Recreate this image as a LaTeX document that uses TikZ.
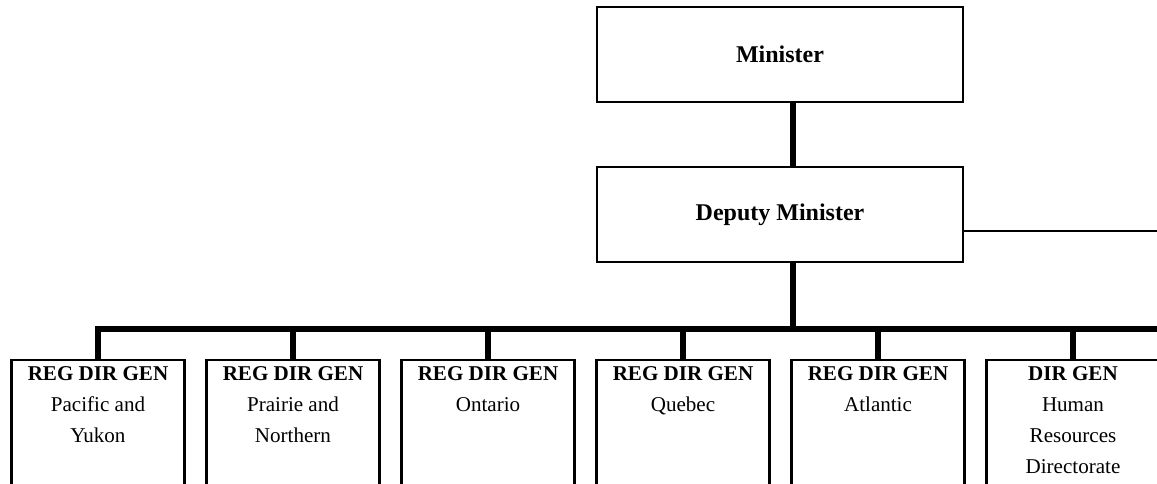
\documentclass[tikz,border=0pt]{standalone}
\usepackage{fontspec}
\setmainfont{Liberation Serif}
\usetikzlibrary{positioning}

\begin{document}
\begin{tikzpicture}[x=0.75pt,y=-0.75pt,
    topbox/.style={draw,line width=1.6pt,minimum width=366*0.75pt,minimum height=95*0.75pt,font=\fontsize{18}{22}\selectfont\bfseries},
    unitbox/.style={draw,line width=1.6pt,anchor=north,minimum width=173*0.75pt,minimum height=200*0.75pt},
    unittext/.style={anchor=north,align=center,inner sep=0pt,font=\fontsize{15.8}{23.25}\selectfont},
    trunk/.style={line width=4.6pt},
    thinline/.style={line width=1.6pt}]
    \useasboundingbox (0,0) rectangle (1157,484);
    \clip (0,0) rectangle (1157,484);
    \node[topbox] (min) at (780,54.5) {Minister};
    \node[topbox] (dep) at (780,214.5) {Deputy Minister};
    \coordinate (spine) at (793,0);
    \coordinate (bus) at (1165,329);
    \coordinate (side) at (1165,231);
    \node[unitbox] (pac) at (98,359) {};
    \node[unitbox] (pra) at (293,359) {};
    \node[unitbox] (ont) at (488,359) {};
    \node[unitbox] (que) at (683,359) {};
    \node[unitbox] (atl) at (878,359) {};
    \node[unitbox] (hrd) at (1073,359) {};
    \node[unittext] (pac-t) at ([yshift=-7*0.75pt]pac.north) {\textbf{REG DIR GEN}\\Pacific and\\Yukon};
    \node[unittext] (pra-t) at ([yshift=-7*0.75pt]pra.north) {\textbf{REG DIR GEN}\\Prairie and\\Northern};
    \node[unittext] (ont-t) at ([yshift=-7*0.75pt]ont.north) {\textbf{REG DIR GEN}\\Ontario};
    \node[unittext] (que-t) at ([yshift=-7*0.75pt]que.north) {\textbf{REG DIR GEN}\\Quebec};
    \node[unittext] (atl-t) at ([yshift=-7*0.75pt]atl.north) {\textbf{REG DIR GEN}\\Atlantic};
    \node[unittext] (hrd-t) at ([yshift=-7*0.75pt]hrd.north) {\textbf{DIR GEN}\\Human\\Resources\\Directorate};
    \draw[trunk] (min.south -| spine) -- (dep.north -| spine);
    \draw[trunk] (dep.south -| spine) -- (spine |- bus);
    \draw[trunk] (pac.north) |- (bus);
    \draw[trunk] (pra.north) -- (pra.north |- bus);
    \draw[trunk] (ont.north) -- (ont.north |- bus);
    \draw[trunk] (que.north) -- (que.north |- bus);
    \draw[trunk] (atl.north) -- (atl.north |- bus);
    \draw[trunk] (hrd.north) -- (hrd.north |- bus);
    \draw[thinline] (side -| dep.east) -- (side);
\end{tikzpicture}
\end{document}
